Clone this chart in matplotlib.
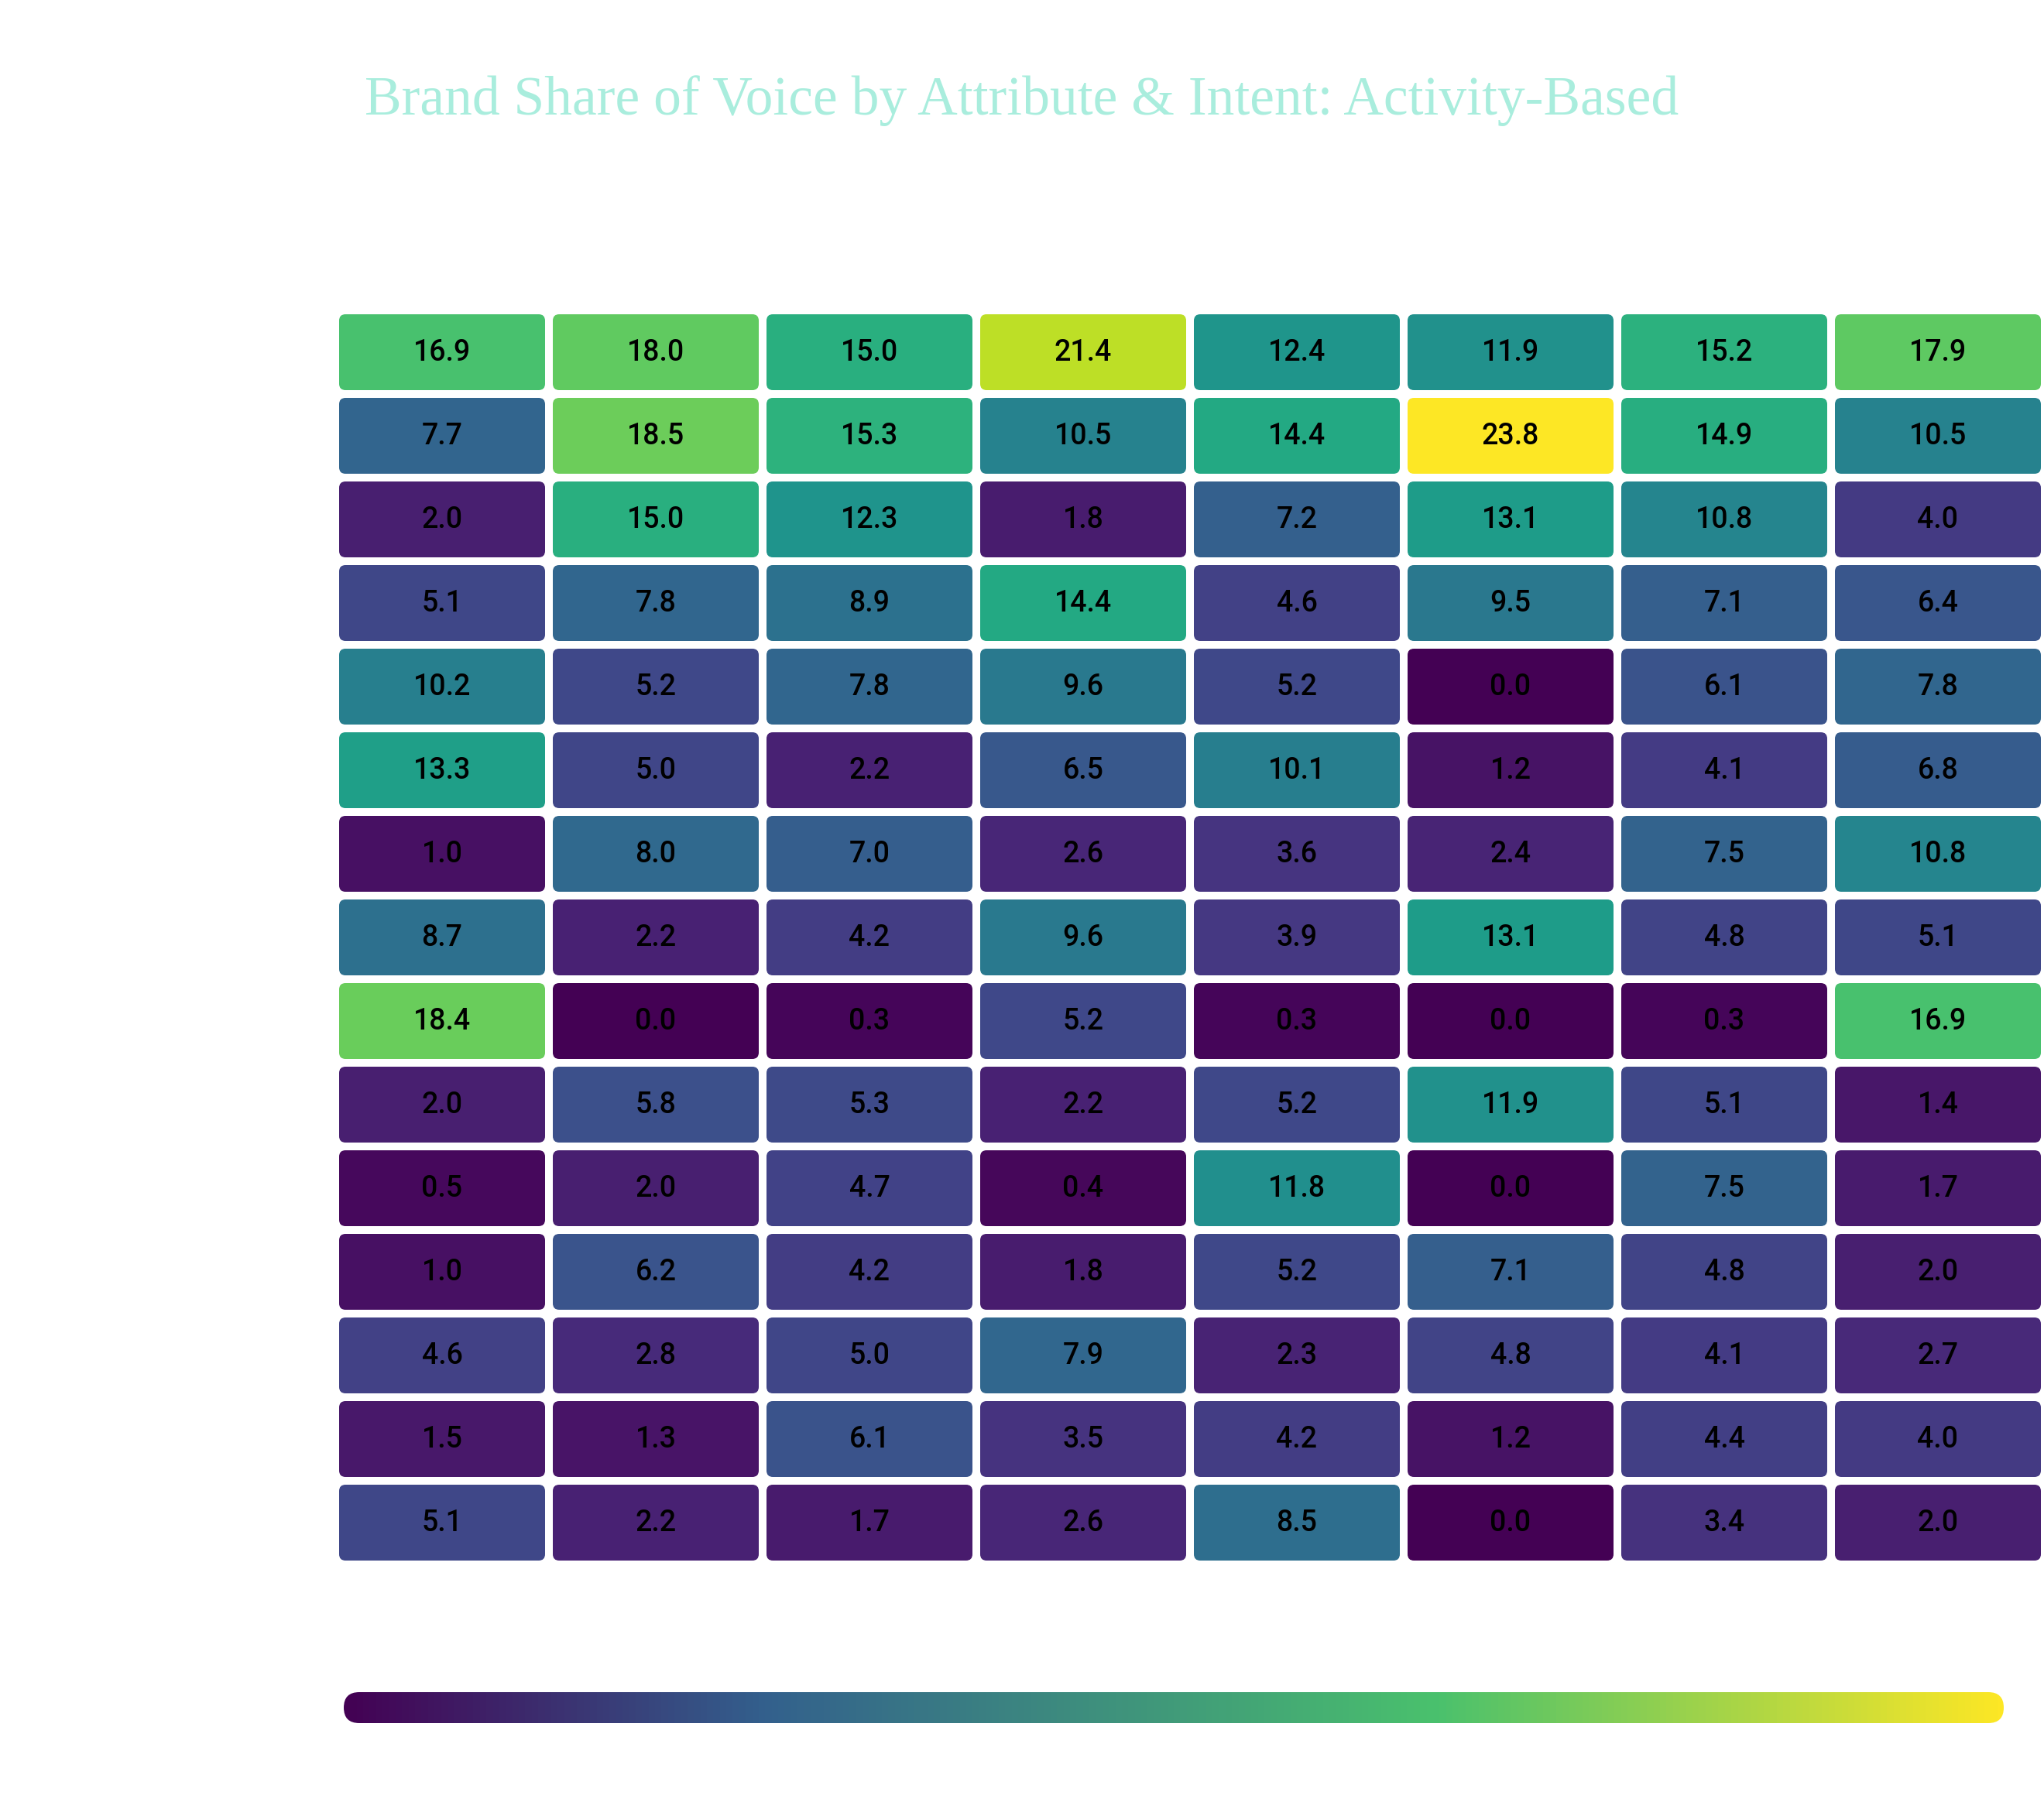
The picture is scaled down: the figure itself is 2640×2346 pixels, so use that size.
import matplotlib
matplotlib.use("Agg")
import matplotlib.pyplot as plt
import numpy as np
from matplotlib.patches import FancyBboxPatch
from matplotlib.colors import LinearSegmentedColormap

# share of voice values, 15 attribute rows x 8 intent columns
row_1 = [16.9, 18.0, 15.0, 21.4, 12.4, 11.9, 15.2, 17.9]
row_2 = [7.7, 18.5, 15.3, 10.5, 14.4, 23.8, 14.9, 10.5]
row_3 = [2.0, 15.0, 12.3, 1.8, 7.2, 13.1, 10.8, 4.0]
row_4 = [5.1, 7.8, 8.9, 14.4, 4.6, 9.5, 7.1, 6.4]
row_5 = [10.2, 5.2, 7.8, 9.6, 5.2, 0.0, 6.1, 7.8]
row_6 = [13.3, 5.0, 2.2, 6.5, 10.1, 1.2, 4.1, 6.8]
row_7 = [1.0, 8.0, 7.0, 2.6, 3.6, 2.4, 7.5, 10.8]
row_8 = [8.7, 2.2, 4.2, 9.6, 3.9, 13.1, 4.8, 5.1]
row_9 = [18.4, 0.0, 0.3, 5.2, 0.3, 0.0, 0.3, 16.9]
row_10 = [2.0, 5.8, 5.3, 2.2, 5.2, 11.9, 5.1, 1.4]
row_11 = [0.5, 2.0, 4.7, 0.4, 11.8, 0.0, 7.5, 1.7]
row_12 = [1.0, 6.2, 4.2, 1.8, 5.2, 7.1, 4.8, 2.0]
row_13 = [4.6, 2.8, 5.0, 7.9, 2.3, 4.8, 4.1, 2.7]
row_14 = [1.5, 1.3, 6.1, 3.5, 4.2, 1.2, 4.4, 4.0]
row_15 = [5.1, 2.2, 1.7, 2.6, 8.5, 0.0, 3.4, 2.0]

data = np.array([row_1, row_2, row_3, row_4, row_5, row_6, row_7, row_8,
                 row_9, row_10, row_11, row_12, row_13, row_14, row_15])
nrows, ncols = data.shape
vmin, vmax = 0.0, data.max()

title = "Brand Share of Voice by Attribute & Intent: Activity-Based"

W, H = 2640, 2346
fig = plt.figure(figsize=(W / 100, H / 100), dpi=100)
fig.patch.set_facecolor("white")

cmap = plt.get_cmap("viridis")
norm = plt.Normalize(vmin, vmax)
# the legend bar is a 4-stop gradient, not the full viridis
bar_cmap = LinearSegmentedColormap.from_list(
    "bar", [(0.0, "#440154"), (0.253, "#33608d"),
            (0.659, "#4ac16d"), (1.0, "#fde725")])

# heatmap area in pixels: cell pitch 276 x 108
px_left, px_top = 433, 401
pitch_x, pitch_y = 276, 108
ax = fig.add_axes([px_left / W, 1 - (px_top + nrows * pitch_y) / H,
                   ncols * pitch_x / W, nrows * pitch_y / H])
ax.set_xlim(0, ncols)
ax.set_ylim(nrows, 0)
ax.axis("off")

gx = 5 / pitch_x
gy = 5 / pitch_y
aspect = pitch_x / pitch_y
for r in range(nrows):
    for c in range(ncols):
        v = data[r, c]
        box = FancyBboxPatch((c + gx, r + gy), 1 - 2 * gx, 1 - 2 * gy,
                             boxstyle="round,pad=0,rounding_size=0.03",
                             mutation_aspect=aspect,
                             facecolor=cmap(norm(v)), edgecolor="none")
        ax.add_patch(box)
        ax.text(c + 0.5, r + 0.5, f"{v:.1f}", ha="center", va="center",
                fontsize=27, fontweight="medium", family="Roboto",
                color="black")

# colour bar with rounded ends
cb_l, cb_b, cb_w, cb_h = 444, 2226, 2144, 40
cax = fig.add_axes([cb_l / W, 1 - cb_b / H, cb_w / W, cb_h / H])
cax.set_xlim(0, cb_w)
cax.set_ylim(0, cb_h)
cax.axis("off")
grad = np.linspace(0, 1, 512).reshape(1, -1)
im = cax.imshow(grad, cmap=bar_cmap, aspect="auto",
                extent=[0, cb_w, 0, cb_h])
clip = FancyBboxPatch((0, 0), cb_w, cb_h,
                      boxstyle="round,pad=0,rounding_size=20",
                      facecolor="none", edgecolor="none")
cax.add_patch(clip)
im.set_clip_path(clip)

fig.text(0.5, 1 - 148 / H, title, ha="center", va="baseline",
         fontsize=51.5, family="Liberation Serif", color="#a9eddd")

fig.savefig("out.png", dpi=100, facecolor="white")
